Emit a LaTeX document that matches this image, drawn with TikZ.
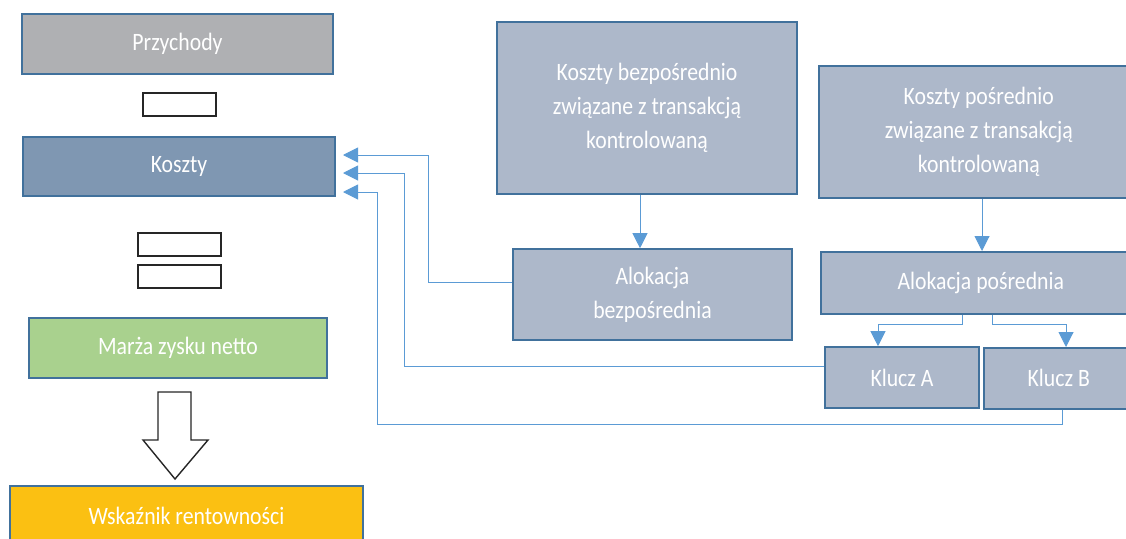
\documentclass[tikz,border=0pt]{standalone}
\usepackage{fontspec}
\setmainfont{Carlito}[FakeStretch=0.87]
\usetikzlibrary{arrows.meta}
\definecolor{bord}{HTML}{41719C}
\definecolor{grayfill}{HTML}{AFB0B3}
\definecolor{kfill}{HTML}{7F97B2}
\definecolor{lfill}{HTML}{ADB8CA}
\definecolor{gfill}{HTML}{A9D18E}
\definecolor{yfill}{HTML}{FBC012}
\definecolor{conncol}{HTML}{5B9BD5}
\tikzset{
  box/.style={draw=bord, line width=1.6pt, inner sep=0pt, text=white, align=center,
    font=\fontsize{25}{34}\selectfont},
  opbox/.style={draw=black!85, line width=1.4pt, fill=white, inner sep=0pt},
  conn/.style={draw=conncol, line width=1pt, -{Triangle[length=15pt,width=15pt]}},
  plain/.style={draw=conncol, line width=1pt},
}
\begin{document}
\begin{tikzpicture}[x=1pt,y=-1pt]
\useasboundingbox (0,0) rectangle (1126,538);
% left column
\node[box, fill=grayfill, minimum width=311pt, minimum height=60pt] (prz) at (177.5,44) {Przychody};
\node[opbox, minimum width=73pt, minimum height=23pt] (minus) at (179.5,104.5) {};
\node[box, fill=kfill, minimum width=312pt, minimum height=59pt] (kos) at (179,166.5) {Koszty};
\node[opbox, minimum width=83pt, minimum height=23pt] (eq1) at (179.5,244.5) {};
\node[opbox, minimum width=83pt, minimum height=23pt] (eq2) at (179.5,276.5) {};
\node[box, fill=gfill, minimum width=298pt, minimum height=60pt] (mar) at (178,348) {Marża zysku netto};
\node[box, fill=yfill, minimum width=353pt, minimum height=60pt] (wsk) at (186.5,516) {Wskaźnik rentowności};
\draw[black!85, line width=1.4pt, line join=miter, fill=white]
  (158,392) -- (191,392) -- (191,440) -- (208,440) -- (175,479) -- (143,440) -- (158,440) -- cycle;
% right part
\node[box, fill=lfill, minimum width=300pt, minimum height=172pt] (kb) at (647,108) {Koszty bezpośrednio\\związane z transakcją\\kontrolowaną};
\node[box, fill=lfill, minimum width=320pt, minimum height=132pt, anchor=north west] (kp) at (818,65) {Koszty pośrednio\\związane z transakcją\\kontrolowaną};
\node[box, fill=lfill, minimum width=279pt, minimum height=91pt] (ab) at (652.5,294.5) {Alokacja\\bezpośrednia};
\node[box, fill=lfill, minimum width=320pt, minimum height=62pt, anchor=north west] (ap) at (820,251) {Alokacja pośrednia};
\node[box, fill=lfill, minimum width=154pt, minimum height=61pt] (ka) at (902,377.5) {Klucz A};
\node[box, fill=lfill, minimum width=150pt, minimum height=61pt, anchor=north west] (kbb) at (983,347) {Klucz B};
\useasboundingbox (0,0) rectangle (1126,538);
% connectors
\coordinate (t1) at (343,155);
\coordinate (t2) at (343,173);
\coordinate (t3) at (343,192);
\draw[conn] (kb.south -| 640,0) -- (ab.north -| 640,0);
\draw[conn] (kp.south -| 982,0) -- (ap.north -| 982,0);
\draw[conn] (ap.south -| 962,0) -- (962,324) -- (878,324) -- (ka.north -| 878,0);
\draw[conn] (ap.south -| 992,0) -- (992,324) -- (1066,324) -- (kbb.north -| 1066,0);
\draw[conn] (ab.west |- 0,282) -- (428,282) -- (428,155) -- (t1);
\draw[conn] (ka.west |- 0,366) -- (404,366) -- (404,173) -- (t2);
\draw[conn] (kbb.south -| 1062,0) -- (1062,424) -- (377,424) -- (377,192) -- (t3);
\end{tikzpicture}
\end{document}
